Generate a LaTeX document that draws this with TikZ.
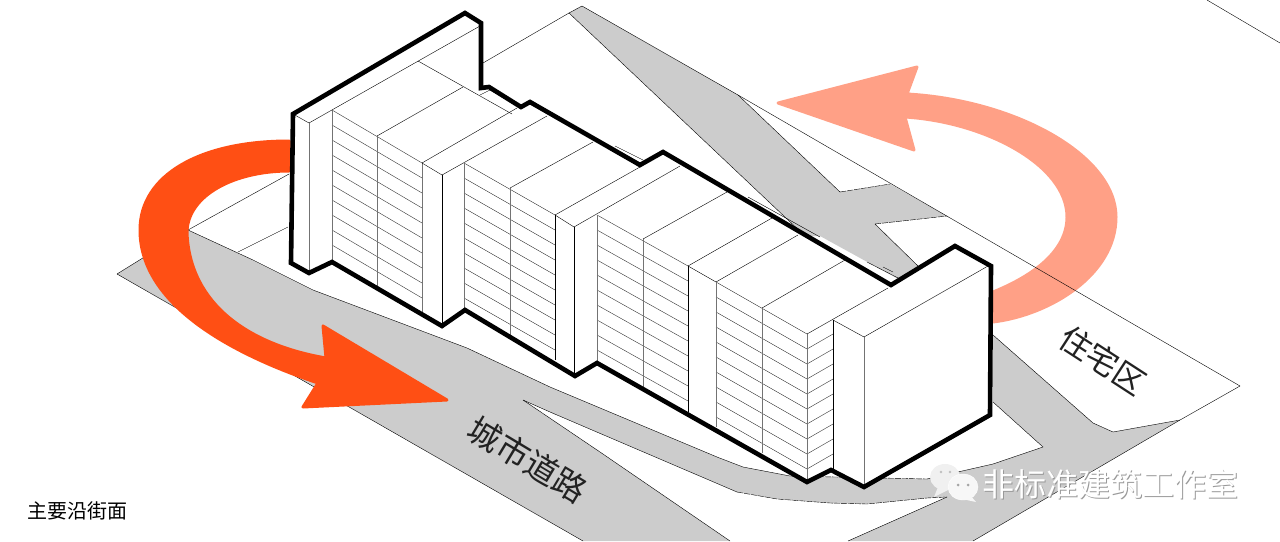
\documentclass[tikz,border=0pt]{standalone}
\usepackage{fontspec}
\newfontfamily\cjkfont{Noto Sans CJK SC}
\usepackage{xcolor}
\definecolor{roadgray}{HTML}{CCCCCC}
\definecolor{arrowred}{HTML}{FF4F14}
\definecolor{arrowsalmon}{HTML}{FFA086}
\definecolor{labelink}{HTML}{222222}
\begin{document}
\begin{tikzpicture}[
   x=1pt,y=-1pt,
   road/.style={fill=roadgray,draw=none},
   thinline/.style={draw=black,line width=0.4pt},
   dashline/.style={draw=black,line width=0.4pt,dash pattern=on 6pt off 1pt},
   vline/.style={draw=black!55,line width=0.6pt},
   darkvline/.style={draw=black,line width=0.6pt},
   slat/.style={draw=black!80,line width=0.4pt},
   outline/.style={draw=black,line width=4.6pt,line join=miter},
   bigarrow/.style={line width=3pt,line join=round},
   tag/.style={font=\cjkfont,text=labelink,inner sep=0pt},
   stamp/.style={font=\cjkfont\fontsize{32}{32}\selectfont,inner sep=0pt}]
  \useasboundingbox (0,0) rectangle (1280,541);
  % pale arrow lies under the site lines
  \path[fill=arrowsalmon,draw=arrowsalmon,bigarrow] (778,103) -- (917,67) -- (907,94)
    .. controls (1015,100) and (1116,155) .. (1116,217)
    .. controls (1116,275) and (1050,315) .. (993,322)
    -- (993,292) .. controls (1035,275) and (1067,250) .. (1067,217)
    .. controls (1067,165) and (985,122) .. (905,117)
    -- (914,150) -- cycle;
  % roads
  \path[road] (117,274) -- (188,230) -- (253,260) -- (313,290) -- (467,348) -- (550,387) -- (717,457) -- (743,467) -- (790,476)
    -- (927,479) -- (993,464) -- (1043,447) -- (993,402) -- (993,335) -- (1093,423) -- (1113,432) -- (1180,420)
    -- (973,541) -- (848,541) -- (947,497) -- (927,498) -- (867,504) -- (830,503) -- (777,499) -- (737,492)
    -- (550,412) -- (523,400) -- (600,452) -- (730,541) -- (583,541) -- cycle;
  \path[road] (569,13) -- (582,6) -- (738,95) -- (840,192) -- (890,184) -- (947,216) -- (875,224) -- (918,266)
    -- (900,280) -- (820,236) -- (805,236) -- cycle;
  % site lines
  \draw[thinline] (848,541) -- (947,497);
  \draw[thinline] (973,541) -- (1180,420) -- (1240,386) -- (738,95) -- (582,6) -- (569,13) -- (805,236);
  \draw[thinline] (738,95) -- (840,192);
  \draw[thinline] (875,224) -- (918,266);
  \draw[thinline] (117,274) -- (188,230) -- (289,174);
  \draw[thinline] (238,252) -- (288,227);
  \draw[thinline] (483,63) -- (569,13);
  \draw[thinline] (117,274) -- (583,541);
  \draw[thinline] (188,230) -- (253,260) -- (313,290) -- (467,348) -- (550,387) -- (717,457) -- (743,467) -- (790,476);
  \draw[thinline] (523,400) -- (550,412) -- (737,492);
  \draw[thinline] (523,400) -- (600,452) -- (730,541);
  \draw[thinline] (993,335) -- (1093,423) -- (1113,432) -- (1180,420);
  \draw[thinline] (993,402) -- (1043,447) -- (993,464) -- (927,479);
  \draw[thinline] (1207,0) -- (1280,43);
  \draw[dashline] (840,192) -- (890,184);
  \draw[dashline] (875,224) -- (947,216);
  \draw[dashline] (790,476) -- (927,479);
  \draw[dashline] (737,492) -- (777,499) -- (830,503) -- (867,504) -- (927,498) -- (947,497);
  % strong arrow over the road
  \path[fill=arrowred,draw=arrowred,bigarrow] (289,141)
    .. controls (200,141) and (140,175) .. (140,230)
    .. controls (140,300) and (220,350) .. (318,383)
    -- (303,407) -- (447,400) -- (323,326) -- (326,358)
    .. controls (250,345) and (190,305) .. (187,233)
    .. controls (187,195) and (235,171) .. (289,171)
    -- cycle;
  % building
  \fill[white] (293,114) -- (465,13) -- (481,23) -- (481,88) -- (489,87) -- (521,107) -- (530,102) -- (640,165) -- (663,152)
    -- (891,285) -- (955,246) -- (991,266) -- (990,415) -- (864,487) -- (831,470) -- (807,482) -- (597,363) -- (575,376)
    -- (465,310) -- (442,326) -- (332,262) -- (309,273) -- (291,263) -- cycle;
  % slats of the four fronts
  \foreach \fx/\fy/\gx/\gy in {332/110/422/163,464/163/555/215,597/215/688/266,716/282/807/334}{
    \foreach \k in {0,...,9}{
      \draw[slat] (\fx,\fy+15*\k) -- (\gx,\gy+15*\k);
    }
  }
  \foreach \k in {1,...,9}{
    \draw[slat] (807,334+15*\k) -- (833,319+15*\k);
  }
  % vertical edges
  \foreach \ex/\ey/\ez in {309/123/273,332/110/262,377/136/288,422/163/314,464/163/310,510/188/336,597/215/363,643/239/390,716/282/427,762/308/453,807/334/482,864/337/487}{
    \draw[vline] (\ex,\ey) -- (\ex,\ez);
  }
  \foreach \ex/\ey/\ez in {442/175/326,555/215/360,574/227/376,688/266/412,833/320/470}{
    \draw[darkvline] (\ex,\ey) -- (\ex,\ez);
  }
  % roof lines
  \draw[thinline] (293,114) -- (309,123) -- (480,26);
  \draw[thinline] (418,61) -- (512,114);
  \draw[thinline] (377,136) -- (463,87);
  \draw[thinline] (422,163) -- (517,108);
  \draw[thinline] (422,163) -- (442,175) -- (547,116);
  \draw[thinline] (510,188) -- (593,142);
  \draw[thinline] (555,215) -- (640,167);
  \draw[thinline] (555,215) -- (574,227) -- (680,166);
  \draw[thinline] (643,239) -- (727,192);
  \draw[thinline] (688,266) -- (772,218);
  \draw[thinline] (688,266) -- (716,282) -- (798,235);
  \draw[thinline] (762,308) -- (845,260);
  \draw[thinline] (807,334) -- (888,288);
  \draw[thinline] (833,320) -- (864,337) -- (988,266);
  % slivers along the back edge
  \draw[thinline] (480,95) -- (490,90) -- (512,103);
  \draw[thinline] (615,146) -- (643,160);
  \draw[thinline] (748,197) -- (820,237);
  \draw[thinline] (867,262) -- (900,279);
  \draw[thinline] (883,267) -- (893,272);
  \draw[outline] (293,114) -- (465,13) -- (481,23) -- (481,88) -- (489,87) -- (521,107) -- (530,102) -- (640,165) -- (663,152)
    -- (891,285) -- (955,246) -- (991,266) -- (990,415) -- (864,487) -- (831,470) -- (807,482) -- (597,363) -- (575,376)
    -- (465,310) -- (442,326) -- (332,262) -- (309,273) -- (291,263) -- cycle;
  % labels
  \node[tag,rotate=-31,font=\cjkfont\fontsize{33}{33}\selectfont] (roadlabel) at (528,460) {城市道路};
  \node[tag,rotate=-33,font=\cjkfont\fontsize{32}{32}\selectfont] (homelabel) at (1103,360) {住宅区};
  \node[tag,anchor=west,text=black,font=\cjkfont\fontsize{20}{20}\selectfont] (frontlabel) at (27,511) {主要沿街面};
  % watermark
  \fill[white!94!black] (945,477) ellipse [x radius=15,y radius=13];
  \fill[white!94!black] (938,487) -- (934,497) -- (948,490) -- cycle;
  \fill[white!97!black,draw=white] (963,487) ellipse [x radius=15,y radius=13];
  \fill[white!97!black] (970,495) -- (976,502) -- (962,499) -- cycle;
  \fill[black!35] (958,485) circle (1.5);
  \fill[black!35] (968,485) circle (1.5);
  \fill[black!25] (941,472) circle (1.3);
  \fill[black!25] (950,472) circle (1.3);
  \node[stamp,text=black!40,anchor=west] (stampshade) at (982.8,484.8) {非标准建筑工作室};
  \node[stamp,text=white,anchor=west] (stamptext) at (982,484) {非标准建筑工作室};
\end{tikzpicture}
\end{document}
